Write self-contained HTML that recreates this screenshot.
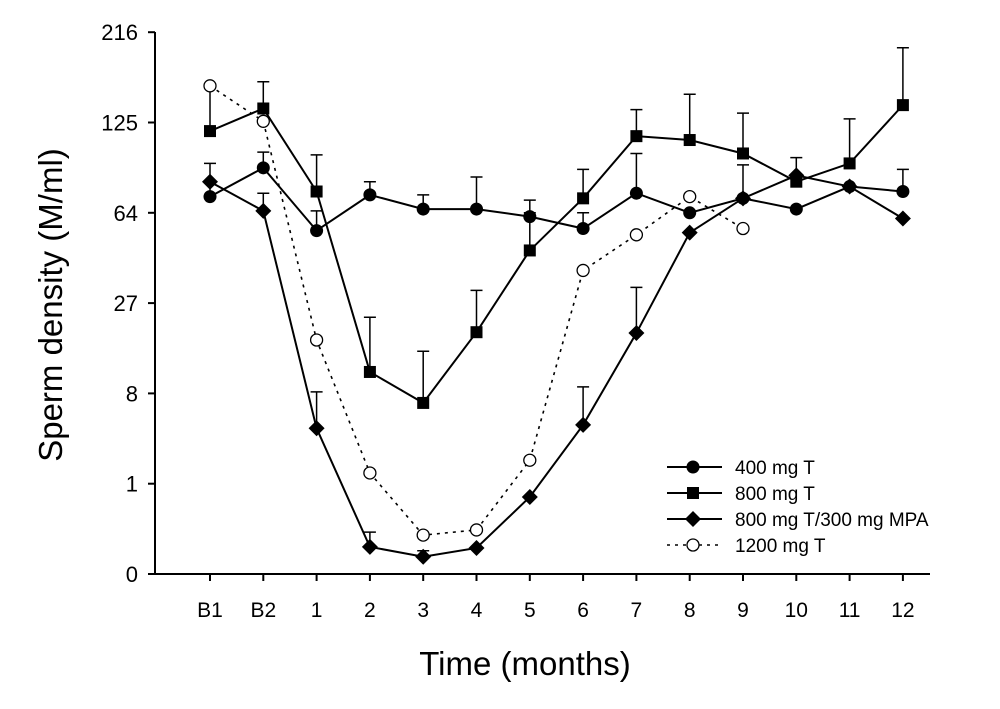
<!DOCTYPE html>
<html><head><meta charset="utf-8"><style>
body{margin:0;background:#fff;}
svg{display:block;font-family:"Liberation Sans",Arial,sans-serif;}
</style></head><body>
<svg id="chart" width="1000" height="709" viewBox="0 0 1000 709" xmlns="http://www.w3.org/2000/svg"></svg>
<script>
const categories=["B1","B2","1","2","3","4","5","6","7","8","9","10","11","12"];
const yTicks=[0,1,8,27,64,125,216];
const s400=[73,91,55,74,66,66,62,56,75,64,72,66,79,76];
const s400err=[94,102,65,82,74,85,71,64,101,null,93,null,null,90];
const s800=[118,137,76,11.2,6.8,19.2,46,72,114,111,101,82,94,140];
const s800err=[null,162,100,23,15,31,64,90,136,150,133,98,128,198];
const sMpa=[82,65,4.2,0.027,0.007,0.024,0.62,4.5,19,54,72,86,79,61];
const sMpaErr=[null,75,8.2,0.1,0.017,null,null,8.9,32,null,null,null,null,null];
const s1200=[158,126,17.4,1.4,0.08,0.116,2.0,38,53,73,56,null,null,null];
const s1200errLow=[118,null,null,null,null,null,null,null,null,null,null,null,null,null];

const NS="http://www.w3.org/2000/svg";
const svg=document.getElementById('chart');
const X0=210,DX=53.3,Y0=574,DY=90.3;
const xs=i=>X0+i*DX;
const ys=v=>Y0-Math.cbrt(v)*DY;
function mk(t,a){const e=document.createElementNS(NS,t);for(const k in a)e.setAttribute(k,a[k]);svg.appendChild(e);return e;}

let ax=mk('line',{x1:155,y1:32,x2:155,y2:575,stroke:'#000','stroke-width':2});


ax=mk('line',{x1:154,y1:574,x2:930,y2:574,stroke:'#000','stroke-width':2});


yTicks.forEach(v=>{
  const y=ys(v);
  const t=mk('line',{x1:148,y1:y,x2:155,y2:y,stroke:'#000','stroke-width':2});
  
  
  const l=mk('text',{x:138,y:y+8,'font-size':22,'text-anchor':'end'});l.textContent=v;
  
  
});
categories.forEach((c,i)=>{
  const x=xs(i);
  const t=mk('line',{x1:x,y1:574,x2:x,y2:581,stroke:'#000','stroke-width':2});
  
  
  const l=mk('text',{x:x,y:617,'font-size':21,'text-anchor':'middle'});l.textContent=c;
  
  
});
let tt=mk('text',{x:525,y:675,'font-size':33,'text-anchor':'middle'});tt.textContent='Time (months)';


tt=mk('text',{x:0,y:0,'font-size':33,'text-anchor':'middle',transform:'translate(62,305) rotate(-90)'});tt.textContent='Sperm density (M/ml)';



function marker(kind,x,y,name){
  let e;
  if(kind==='circle')e=mk('circle',{cx:x,cy:y,r:6.5,fill:'#000'});
  else if(kind==='square')e=mk('rect',{x:x-6,y:y-6,width:12,height:12,fill:'#000'});
  else if(kind==='diamond')e=mk('polygon',{points:`${x},${y-8} ${x+8},${y} ${x},${y+8} ${x-8},${y}`,fill:'#000'});
  else e=mk('circle',{cx:x,cy:y,r:6,fill:'#fff',stroke:'#000','stroke-width':1.3});
  
  
}
function errbar(x,v,ev){
  if(ev==null||v==null)return;
  const y1=ys(v),y2=ys(ev);
  const g=mk('path',{d:`M${x},${y1}L${x},${y2}M${x-6},${y2}L${x+6},${y2}`,stroke:'#000','stroke-width':1.5,fill:'none'});
  
  
}
function series(vals,errs,kind,dash,name){
  errs&&errs.forEach((e,i)=>errbar(xs(i),vals[i],e));
  let d='';vals.forEach((v,i)=>{if(v==null)return;d+=(d?'L':'M')+xs(i)+','+ys(v);});
  const p=mk('path',{d:d,stroke:'#000','stroke-width':kind==='open'?1.6:2,fill:'none','stroke-dasharray':dash||'none'});
  
  
  vals.forEach((v,i)=>{if(v!=null)marker(kind,xs(i),ys(v),name+'-point');});
}
series(s400,s400err,'circle',null,'series-400mg');
series(s800,s800err,'square',null,'series-800mg');
series(sMpa,sMpaErr,'diamond',null,'series-800mg-mpa');
s1200errLow.forEach((e,i)=>errbar(xs(i),s1200[i],e));
series(s1200,null,'open','3,5','series-1200mg');

const leg=[['circle','400 mg T',null],['square','800 mg T',null],['diamond','800 mg T/300 mg MPA',null],['open','1200 mg T','3,5']];
leg.forEach((L,i)=>{
  const y=467+i*26;
  const l=mk('line',{x1:667,y1:y,x2:722,y2:y,stroke:'#000','stroke-width':L[0]==='open'?1.6:2,'stroke-dasharray':L[2]||'none'});
  
  
  marker(L[0],693,y,'legend-marker');
  const t=mk('text',{x:735,y:y+7,'font-size':19});t.textContent=L[1];
  
  
});
</script>
</body></html>
